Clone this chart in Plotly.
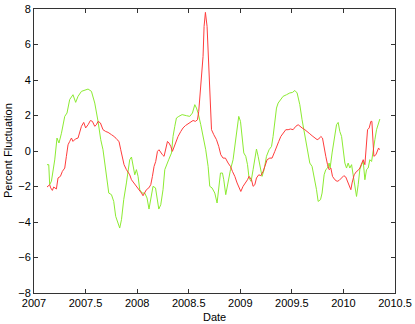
import plotly.graph_objects as go

# Green series (date in years, percent fluctuation)
green_date = [
    2007.126, 2007.143, 2007.152, 2007.169, 2007.201, 2007.223, 2007.242, 2007.266,
    2007.298, 2007.320, 2007.346, 2007.363, 2007.378, 2007.404, 2007.427, 2007.460,
    2007.492, 2007.524, 2007.557, 2007.589, 2007.621, 2007.647, 2007.669, 2007.702,
    2007.725, 2007.751, 2007.773, 2007.792, 2007.815, 2007.831, 2007.848, 2007.870,
    2007.896, 2007.912, 2007.928, 2007.945, 2007.960, 2007.977, 2007.993, 2008.009,
    2008.025, 2008.048, 2008.074, 2008.096, 2008.115, 2008.132, 2008.154, 2008.178,
    2008.193, 2008.210, 2008.229, 2008.251, 2008.268, 2008.284, 2008.306, 2008.333,
    2008.348, 2008.365, 2008.381, 2008.404, 2008.436, 2008.478, 2008.510, 2008.536,
    2008.559, 2008.575, 2008.591, 2008.617, 2008.639, 2008.665, 2008.688, 2008.704,
    2008.726, 2008.753, 2008.775, 2008.791, 2008.808, 2008.827, 2008.840, 2008.859,
    2008.882, 2008.905, 2008.930, 2008.957, 2008.973, 2008.985, 2009.002, 2009.017,
    2009.034, 2009.053, 2009.070, 2009.085, 2009.105, 2009.124, 2009.141, 2009.157,
    2009.173, 2009.189, 2009.211, 2009.231, 2009.254, 2009.279, 2009.303, 2009.318,
    2009.335, 2009.351, 2009.367, 2009.390, 2009.415, 2009.448, 2009.480, 2009.506,
    2009.529, 2009.551, 2009.577, 2009.599, 2009.626, 2009.652, 2009.674, 2009.696,
    2009.716, 2009.739, 2009.755, 2009.778, 2009.793, 2009.813, 2009.829, 2009.846,
    2009.861, 2009.871, 2009.890, 2009.910, 2009.933, 2009.949, 2009.965, 2009.982,
    2009.997, 2010.014, 2010.030, 2010.046, 2010.062, 2010.079, 2010.094, 2010.111,
    2010.127, 2010.143, 2010.159, 2010.176, 2010.192, 2010.208, 2010.224, 2010.240,
    2010.256, 2010.273, 2010.288, 2010.305, 2010.321, 2010.343, 2010.353,
]
green_pct = [
    -0.77, -0.77, -1.90, -1.70, -0.50, 0.73, 0.45, 1.00,
    1.95, 2.14, 2.90, 3.08, 3.17, 2.74, 3.08, 3.36,
    3.41, 3.49, 3.36, 2.70, 1.67, 0.64, 0.07, -1.24,
    -2.37, -2.46, -2.84, -3.68, -4.15, -4.34, -3.87, -2.74,
    -1.80, -1.05, -0.49, -0.34, -0.77, -1.34, -1.05, -1.43,
    -2.18, -2.37, -2.37, -2.65, -3.27, -2.74, -1.99, -2.08,
    -2.74, -3.27, -3.03, -2.18, -1.05, -0.77, -0.49, -0.11,
    0.82, 1.39, 1.86, 1.95, 2.05, 1.99, 1.95, 2.14,
    2.61, 2.42, 2.14, 1.48, 0.92, 0.07, -0.87, -1.99,
    -2.08, -2.37, -2.93, -1.99, -1.24, -1.24, -1.62, -2.46,
    -1.71, -1.05, -0.49, 0.64, 1.39, 1.95, 1.67, 0.64,
    -0.11, -0.30, -0.77, -1.52, -1.71, -1.05, -0.30, 0.11,
    -0.30, -0.77, -1.43, -1.05, -0.30, 0.07, 0.26, 0.82,
    1.58, 2.42, 2.70, 2.89, 3.08, 3.17, 3.27, 3.30,
    3.41, 3.27, 2.61, 1.76, 0.82, 0.07, -0.68, -0.87,
    -1.43, -2.18, -2.84, -2.74, -2.37, -1.34, -1.05, -0.96,
    -0.68, -0.96, -0.11, 0.64, 1.48, 1.61, 1.10, 0.82,
    0.07, -0.68, -0.96, -0.68, -0.96, -0.77, -1.34, -1.99,
    -2.56, -1.90, -1.05, -0.77, -0.59, -1.62, -1.05, -0.96,
    -0.49, -0.59, 0.07, 0.64, 1.20, 1.67, 1.80,
]

# Red series
red_date = [
    2007.126, 2007.152, 2007.162, 2007.178, 2007.191, 2007.217, 2007.233, 2007.256,
    2007.275, 2007.298, 2007.314, 2007.330, 2007.346, 2007.363, 2007.378, 2007.402,
    2007.427, 2007.443, 2007.460, 2007.482, 2007.501, 2007.524, 2007.547, 2007.566,
    2007.589, 2007.605, 2007.621, 2007.644, 2007.669, 2007.695, 2007.718, 2007.751,
    2007.783, 2007.805, 2007.824, 2007.841, 2007.857, 2007.873, 2007.896, 2007.916,
    2007.928, 2007.945, 2007.970, 2007.993, 2008.016, 2008.042, 2008.057, 2008.074,
    2008.090, 2008.113, 2008.132, 2008.148, 2008.164, 2008.180, 2008.197, 2008.212,
    2008.229, 2008.245, 2008.261, 2008.277, 2008.294, 2008.309, 2008.326, 2008.342,
    2008.358, 2008.374, 2008.397, 2008.423, 2008.445, 2008.468, 2008.494, 2008.520,
    2008.542, 2008.565, 2008.585, 2008.597, 2008.614, 2008.629, 2008.639, 2008.649,
    2008.662, 2008.678, 2008.694, 2008.711, 2008.721, 2008.743, 2008.769, 2008.791,
    2008.811, 2008.833, 2008.856, 2008.882, 2008.905, 2008.924, 2008.947, 2008.969,
    2008.988, 2009.005, 2009.027, 2009.050, 2009.070, 2009.085, 2009.109, 2009.124,
    2009.141, 2009.157, 2009.179, 2009.199, 2009.221, 2009.238, 2009.260, 2009.286,
    2009.308, 2009.335, 2009.351, 2009.373, 2009.393, 2009.415, 2009.441, 2009.464,
    2009.487, 2009.512, 2009.538, 2009.561, 2009.577, 2009.599, 2009.626, 2009.652,
    2009.674, 2009.696, 2009.722, 2009.745, 2009.761, 2009.781, 2009.797, 2009.813,
    2009.829, 2009.846, 2009.861, 2009.878, 2009.894, 2009.917, 2009.939, 2009.958,
    2009.982, 2010.004, 2010.023, 2010.040, 2010.055, 2010.072, 2010.084, 2010.104,
    2010.127, 2010.143, 2010.159, 2010.176, 2010.192, 2010.208, 2010.218, 2010.234,
    2010.250, 2010.266, 2010.276, 2010.286, 2010.295, 2010.315, 2010.331, 2010.341,
    2010.350,
]
red_pct = [
    -2.03, -1.90, -2.08, -2.22, -2.03, -2.14, -1.52, -1.43,
    -1.15, -0.96, -0.30, 0.35, 0.54, 0.73, 0.54, 0.68,
    0.73, 1.10, 1.39, 1.61, 1.30, 1.48, 1.72, 1.67,
    1.39, 1.48, 1.67, 1.58, 1.20, 1.10, 1.05, 0.92,
    0.79, 0.64, 0.54, 0.07, -0.30, -0.77, -1.05, -1.24,
    -1.34, -1.62, -1.80, -1.99, -2.18, -2.37, -2.52, -2.33,
    -2.18, -2.08, -1.90, -1.43, -0.87, -0.59, -0.02, 0.07,
    -0.11, -0.21, -0.30, 0.07, 0.54, 0.45, 0.26, -0.02,
    0.26, 0.54, 0.82, 1.10, 1.30, 1.43, 1.54, 1.67,
    1.72, 1.67, 1.76, 2.23, 3.45, 4.77, 5.33, 7.02,
    7.81, 7.02, 4.77, 2.33, 1.20, 0.92, 0.64, 0.26,
    -0.21, -0.40, -0.40, -0.68, -0.87, -1.15, -1.43, -1.80,
    -2.08, -2.28, -1.99, -1.80, -1.62, -1.43, -1.62, -1.99,
    -1.90, -1.52, -1.34, -1.39, -1.15, -0.87, -0.49, -0.40,
    -0.40, -0.02, 0.26, 0.54, 0.82, 1.01, 1.20, 1.20,
    1.24, 1.20, 1.39, 1.48, 1.39, 1.30, 1.20, 1.10,
    0.97, 0.86, 0.73, 0.64, 0.68, 0.82, 0.73, 0.07,
    -0.30, -0.77, -1.05, -0.96, -1.43, -1.62, -1.71, -1.66,
    -1.52, -1.39, -1.47, -1.71, -1.99, -2.18, -1.80, -1.34,
    -1.15, -1.09, -0.96, -0.68, -0.49, -0.77, 0.07, 1.20,
    1.30, 1.67, 1.67, 0.45, -0.30, -0.21, -0.02, 0.17,
    0.07,
]

x_ticks = [2007, 2007.5, 2008, 2008.5, 2009, 2009.5, 2010, 2010.5]
y_ticks = [-8, -6, -4, -2, 0, 2, 4, 6, 8]

fig = go.Figure()
fig.add_trace(go.Scatter(x=green_date, y=green_pct, mode="lines",
                         line=dict(color="rgb(140,235,50)", width=1)))
fig.add_trace(go.Scatter(x=red_date, y=red_pct, mode="lines",
                         line=dict(color="rgb(255,60,60)", width=1)))

axis_style = dict(showgrid=False, zeroline=False, showline=True, mirror="ticks",
                  linecolor="#333", linewidth=1, ticks="inside", ticklen=4,
                  tickcolor="#333", tickfont=dict(size=11, color="black"),
                  automargin=False)

fig.update_layout(
    width=415, height=324,
    margin=dict(l=34, r=20, t=9, b=31),
    paper_bgcolor="white", plot_bgcolor="white",
    showlegend=False,
    font=dict(family="Liberation Sans, Arial, sans-serif", size=11, color="black"),
    xaxis=dict(range=[2007, 2010.5], tickvals=x_ticks,
               ticktext=[f"{t:g}" for t in x_ticks], **axis_style),
    yaxis=dict(range=[-8, 8], tickvals=y_ticks, **axis_style),
    annotations=[
        dict(text="Date", xref="paper", yref="paper", x=0.5, y=0,
             yshift=-24, xanchor="center", yanchor="middle", showarrow=False,
             font=dict(size=11)),
        dict(text="Percent Fluctuation", xref="paper", yref="paper", x=0, y=0.5,
             xshift=-26, xanchor="center", yanchor="middle", textangle=-90,
             showarrow=False, font=dict(size=11)),
    ],
)

# The page's default body margin shifts the chart; remove it.
fig.write_html("out.html", config={"displayModeBar": False},
               post_script="document.body.style.margin = '0';")
